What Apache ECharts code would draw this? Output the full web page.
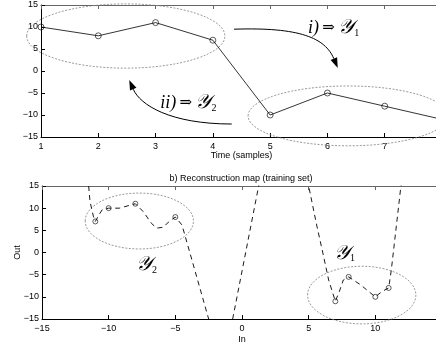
<!DOCTYPE html>
<html><head><meta charset="utf-8">
<script src="https://cdn.jsdelivr.net/npm/echarts@6/dist/echarts.min.js"></script>
<style>html,body{margin:0;padding:0;background:#fff}#c{width:436px;height:352px}</style>
</head><body><div id="c"></div>
<script>
// ---- Panel a): time series ----
const timeSamples = [1, 2, 3, 4, 5, 6, 7, 8];
const seriesValues = [10, 8, 11, 7, -10, -5, -8, -11];

// ---- Panel b): reconstruction map ----
const mapIn  = [-11.6, -11.5, -11.4, -11.15, -11, -10.8, -10.5, -10, -9.2, -8, -7.4, -6.8, -6.4, -5.9, -5.5, -5, -4.5, -2.5, -2.2, -1.6, -0.9, -0.7, 1.25, 1.5, 3, 4.7, 5, 5.6, 6.1, 6.5, 7, 7.3, 7.6, 8, 8.9, 9.5, 10, 10.5, 11, 11.2, 11.6, 11.9, 12.1];
const mapOut = [17, 15, 11.5, 8.2, 7, 8.1, 9.6, 10, 10, 11, 9.2, 6.6, 5.5, 5.7, 6.9, 8, 6.2, -15, -18, -21, -18, -15, 15, 18, 21, 18, 15, 6.2, -0.6, -6.2, -11, -8.8, -6.2, -5.5, -7.3, -8.8, -10, -8.8, -8, -3.9, 6.6, 14.5, 18];
const trainIn  = [-11, -10, -8, -5, 7, 8, 10, 11];
const trainOut = [7, 10, 11, 8, -11, -5.5, -10, -8];

// ---- Annotations (data coordinates) ----
const topEllipses = [[2.48, 7.95, 1.73, 7.3], [6.36, -10.2, 1.745, 6.8]];      // cx, cy, rx, ry
const bottomEllipses = [[-7.7, 7.1, 4.06, 6.3], [8.98, -9.6, 4.06, 6.5]];
const arrowPaths = [
  [4.37, 9.5, 5.52, 10, 5.96, 7.5, 6.18, 0.7],
  [4.33, -12.05, 3.25, -12.05, 2.73, -7.7, 2.54, -2.05]
];
const topLabelPos = [[5.66, 9.77], [3.08, -7.27]];
const topLabelText = ['{a|i)} {b|⇒} {c|𝒴}{d|1}', '{a|ii)} {b|⇒} {c|𝒴}{d|2}'];
const bottomLabelPos = [[-7.95, -2.8], [6.9, -0.3]];
const bottomLabelText = ['{c|𝒴}{d|2}', '{c|𝒴}{d|1}'];

const panelTitle = 'b) Reconstruction map (training set)';

const chart = echarts.init(document.getElementById('c'), null, {renderer: 'canvas'});
const FONT = 'Liberation Sans';
const minus = v => String(v).replace('-', '\u2212');
const richStyles = {
  a: {fontFamily: 'Liberation Serif', fontStyle: 'italic', fontSize: 18, fill: '#000', color: '#000'},
  b: {fontFamily: 'DejaVu Serif', fontSize: 15, fill: '#000', color: '#000'},
  c: {fontFamily: 'Liberation Serif', fontStyle: 'italic', fontSize: 20, fill: '#000', color: '#000'},
  d: {fontFamily: 'Liberation Serif', fontSize: 10, fill: '#000', color: '#000', padding: [10, 0, 0, 0]}
};

function xAxisBase(grid, min, max, interval, name, gap) {
  return [{
    gridIndex: grid, type: 'value', min, max, interval,
    name, nameLocation: 'middle', nameGap: gap, nameMoveOverlap: false,
    nameTextStyle: {fontFamily: FONT, fontSize: 9, color: '#000'},
    axisLine: {show: true, onZero: false, lineStyle: {color: '#000', width: 1}},
    axisTick: {show: true, inside: true, length: 4, lineStyle: {color: '#000'}},
    axisLabel: {show: true, margin: 5, fontFamily: FONT, fontSize: 9, color: '#000', showMaxLabel: false, formatter: minus},
    splitLine: {show: false}
  }, {
    gridIndex: grid, type: 'value', min, max, interval, position: 'top',
    axisLine: {show: true, onZero: false, lineStyle: {color: '#666', width: 1}},
    axisTick: {show: true, inside: true, length: 4, lineStyle: {color: '#666'}},
    axisLabel: {show: false}, splitLine: {show: false}
  }];
}
function yAxisBase(grid, name) {
  return {
    gridIndex: grid, type: 'value', min: -15, max: 15, interval: 5,
    name, nameLocation: 'middle', nameGap: 20, nameRotate: 90, nameMoveOverlap: false,
    nameTextStyle: {fontFamily: FONT, fontSize: 9, color: '#000'},
    axisLine: {show: true, onZero: false, lineStyle: {color: '#000', width: 1}},
    axisTick: {show: true, inside: true, length: 4, lineStyle: {color: '#000'}},
    axisLabel: {show: true, margin: 3, fontFamily: FONT, fontSize: 9, color: '#000', formatter: minus},
    splitLine: {show: false}
  };
}

function ellipseItem(params, api) {
  const c = api.coord([api.value(0), api.value(1)]);
  const s = api.size([api.value(2), api.value(3)]);
  return {type: 'ellipse', shape: {cx: c[0], cy: c[1], rx: s[0], ry: s[1]},
    style: {fill: null, stroke: '#808080', lineWidth: 0.8, lineDash: [2, 1.5]}};
}
function arrowItem(params, api) {
  const p = [];
  for (let k = 0; k < 4; k++) p.push(api.coord([api.value(2 * k), api.value(2 * k + 1)]));
  const dx = p[3][0] - p[2][0], dy = p[3][1] - p[2][1];
  const L = Math.hypot(dx, dy) || 1, ux = dx / L, uy = dy / L;
  const hl = 10, hw = 3.5;
  const b = [p[3][0] - ux * hl, p[3][1] - uy * hl];
  return {type: 'group', children: [
    {type: 'bezierCurve', shape: {x1: p[0][0], y1: p[0][1], cpx1: p[1][0], cpy1: p[1][1], cpx2: p[2][0], cpy2: p[2][1], x2: b[0], y2: b[1]},
      style: {stroke: '#000', fill: null, lineWidth: 1}},
    {type: 'polygon', shape: {points: [p[3], [b[0] - uy * hw, b[1] + ux * hw], [b[0] + uy * hw, b[1] - ux * hw]]},
      style: {fill: '#000', stroke: null}}
  ]};
}
function textItemFactory(texts) {
  return function (params, api) {
    const c = api.coord([api.value(0), api.value(1)]);
    return {type: 'text', x: c[0], y: c[1],
      style: {text: texts[params.dataIndex], rich: richStyles, align: 'left', verticalAlign: 'middle', fill: '#000'}};
  };
}

const option = {
  animation: false,
  backgroundColor: '#fff',
  title: {text: panelTitle, left: 241, top: 174, padding: 0, textAlign: 'center',
    textStyle: {fontFamily: FONT, fontSize: 9, fontWeight: 'normal', color: '#000'}},
  grid: [
    {left: 41, top: 5, width: 401, height: 132, containLabel: false, outerBoundsMode: 'none'},
    {left: 42, top: 186, width: 400, height: 133, containLabel: false, outerBoundsMode: 'none'}
  ],
  xAxis: [
    ...xAxisBase(0, 1, 8, 1, 'Time (samples)', 14),
    ...xAxisBase(1, -15, 15, 5, 'In', 16)
  ],
  yAxis: [yAxisBase(0, ''), yAxisBase(1, 'Out')],
  series: [
    {type: 'line', xAxisIndex: 0, yAxisIndex: 0, data: timeSamples.map((t, i) => [t, seriesValues[i]]),
      symbol: 'none', showSymbol: false, lineStyle: {color: '#000', width: 0.8}, clip: true, z: 3},
    {type: 'scatter', xAxisIndex: 0, yAxisIndex: 0, data: timeSamples.map((t, i) => [t, seriesValues[i]]),
      symbol: 'circle', symbolSize: 6, itemStyle: {color: 'rgba(255,255,255,0)', borderColor: '#000', borderWidth: 0.8}, z: 4},
    {type: 'line', xAxisIndex: 2, yAxisIndex: 1, data: mapIn.map((x, i) => [x, mapOut[i]]),
      showSymbol: false, symbol: 'none', lineStyle: {color: '#000', width: 0.9, type: [5, 4]}, clip: true, z: 2},
    {type: 'scatter', xAxisIndex: 2, yAxisIndex: 1, data: trainIn.map((x, i) => [x, trainOut[i]]),
      symbol: 'circle', symbolSize: 5, itemStyle: {color: 'rgba(255,255,255,0)', borderColor: '#000', borderWidth: 0.8}, z: 4},
    {type: 'custom', xAxisIndex: 0, yAxisIndex: 0, data: topEllipses, renderItem: ellipseItem, clip: false, z: 1},
    {type: 'custom', xAxisIndex: 2, yAxisIndex: 1, data: bottomEllipses, renderItem: ellipseItem, clip: false, z: 1},
    {type: 'custom', xAxisIndex: 0, yAxisIndex: 0, data: arrowPaths, renderItem: arrowItem, clip: false, z: 5},
    {type: 'custom', xAxisIndex: 0, yAxisIndex: 0, data: topLabelPos, renderItem: textItemFactory(topLabelText), clip: false, z: 5},
    {type: 'custom', xAxisIndex: 2, yAxisIndex: 1, data: bottomLabelPos, renderItem: textItemFactory(bottomLabelText), clip: false, z: 5}
  ]
};
chart.setOption(option);
</script></body></html>
